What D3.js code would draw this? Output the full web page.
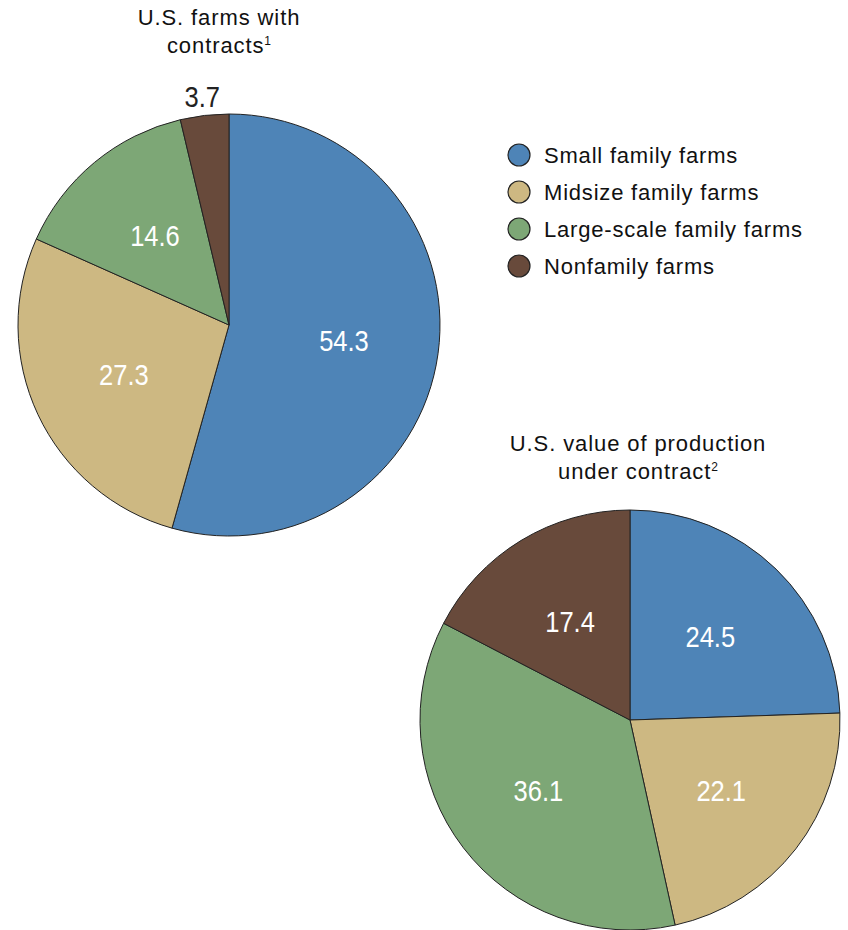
<!DOCTYPE html>
<html><head><meta charset="utf-8">
<script src="https://cdn.jsdelivr.net/npm/d3@7"></script>
<style>body{margin:0;background:#fff}</style>
</head><body>
<svg id="c" width="848" height="930"></svg>
<script>
const categories = ["Small family farms","Midsize family farms","Large-scale family farms","Nonfamily farms"];
const colors = ["#4e84b7","#cdb882","#7da776","#684a3b"];
const farmsWithContracts = [54.3, 27.3, 14.6, 3.7];
const valueUnderContract = [24.5, 22.1, 36.1, 17.4];

const svg = d3.select("#c");
const font = "'Liberation Sans', Arial, Helvetica, sans-serif";

function drawPie(values, cx, cy, r, titleLines, supText, titleX, titleY) {
  const g = svg.append("g").attr("transform", `translate(${cx},${cy})`);
  const pie = d3.pie().sort(null).value(d => d);
  const arcs = pie(values);
  const arc = d3.arc().innerRadius(0).outerRadius(r);
  g.selectAll("path").data(arcs).join("path")
    .attr("d", arc)
    .attr("fill", (d, i) => colors[i])
    .attr("stroke", "#222").attr("stroke-width", 1);
  const lab = d3.arc().innerRadius(r * 0.55).outerRadius(r * 0.55);
  const out = d3.arc().innerRadius(r * 1.09).outerRadius(r * 1.09);
  arcs.forEach((d, i) => {
    const small = d.value < 5;
    const [x, y] = small ? out.centroid(d) : lab.centroid(d);
    g.append("text")
      .attr("transform", `translate(${x},${y}) scale(0.88,1)`)
      .attr("text-anchor", "middle").attr("dy", "0.36em")
      .attr("font-family", font).attr("font-size", 29)
      .attr("fill", small ? "#222" : "#fff")
      .text(d3.format(".1f")(d.value));
  });
  const t = svg.append("text").attr("text-anchor", "middle")
    .attr("font-family", font).attr("font-size", 22).attr("letter-spacing", 0.9).attr("fill", "#111");
  titleLines.forEach((line, i) => {
    t.append("tspan").attr("x", titleX).attr("y", titleY + i * 28).text(line);
  });
  t.append("tspan").attr("font-size", 12).attr("letter-spacing", 0).attr("dy", -8).text(supText);
}

drawPie(farmsWithContracts, 229, 325, 211, ["U.S. farms with", "contracts"], "1", 219, 25);
drawPie(valueUnderContract, 630, 720, 210, ["U.S. value of production", "under contract"], "2", 638, 451);

const leg = svg.append("g").attr("transform", "translate(519,155)");
categories.forEach((c, i) => {
  const gi = leg.append("g").attr("transform", `translate(0,${i * 37})`);
  gi.append("circle").attr("r", 11).attr("fill", colors[i]).attr("stroke", "#222").attr("stroke-width", 1.2);
  gi.append("text").attr("x", 25).attr("dy", "0.36em")
    .attr("font-family", font).attr("font-size", 22).attr("letter-spacing", 0.8)
    .attr("fill", "#111").text(c);
});
</script>
</body></html>
